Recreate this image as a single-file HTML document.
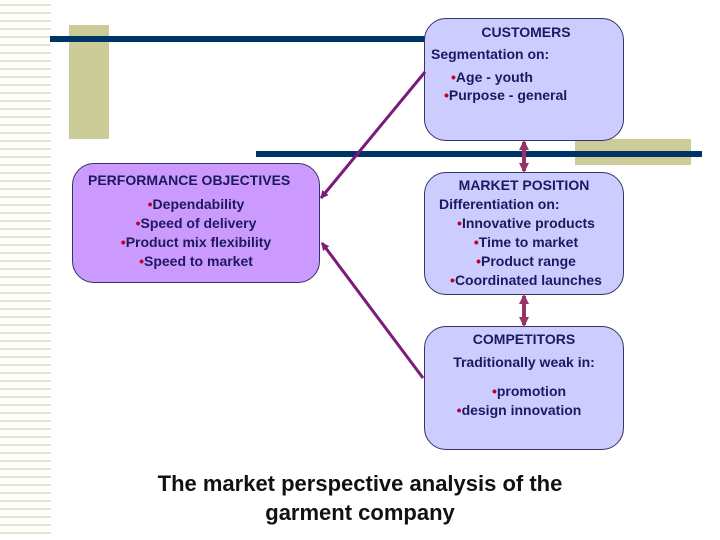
<!DOCTYPE html>
<html><head><style>
body{margin:0;width:720px;height:540px;background:#fff;position:relative;overflow:hidden;font-family:"Liberation Sans",sans-serif;}
.stripes{position:absolute;left:0;top:0;width:51px;height:540px;background:repeating-linear-gradient(#fff 0 4px,#e6e6cc 4px 6px,#fff 6px 8px);}
.abs{position:absolute}
.box{position:absolute;border:1px solid #333366;border-radius:22px;background:#ccccff;color:#1a1a5e;font-weight:bold;font-size:14px;text-align:center;box-sizing:border-box;line-height:19px}
.b{color:#c00020}
</style></head><body>
<div class="stripes"></div>
<div class="abs" style="left:69px;top:25px;width:40px;height:114px;background:#cccc99"></div>
<div class="abs" style="left:575px;top:139px;width:116px;height:26px;background:#cccc99"></div>
<div class="abs" style="left:50px;top:36px;width:375px;height:6px;background:#003366"></div>
<div class="abs" style="left:256px;top:151px;width:446px;height:6px;background:#003366"></div>

<div class="box" style="left:72px;top:163px;width:248px;height:120px;background:#cc99ff;">
<div style="margin-top:7px;text-align:left;padding-left:15px;font-size:14px">PERFORMANCE OBJECTIVES</div>
<div style="margin-top:5px"><span class="b">•</span>Dependability<br><span class="b">•</span>Speed of delivery<br><span class="b">•</span>Product mix flexibility<br><span class="b">•</span>Speed to market</div>
</div>

<div class="box" style="left:424px;top:18px;width:200px;height:123px;">
<div style="margin-top:4px;padding-left:4px">CUSTOMERS</div>
<div style="margin-top:3px;text-align:left;padding-left:6px">Segmentation on:</div>
<div style="margin-top:4px;text-align:left;padding-left:26px;line-height:18px"><span class="b">•</span>Age - youth<br><span style="margin-left:-7px"><span class="b">•</span>Purpose - general</span></div>
</div>

<div class="box" style="left:424px;top:172px;width:200px;height:123px;">
<div style="margin-top:3px">MARKET POSITION</div>
<div style="text-align:left;padding-left:14px">Differentiation on:</div>
<div style="margin-left:4px"><span class="b">•</span>Innovative products<br><span class="b">•</span>Time to market<br><span class="b">•</span>Product range<br><span class="b">•</span>Coordinated launches</div>
</div>

<div class="box" style="left:424px;top:326px;width:200px;height:124px;">
<div style="margin-top:3px">COMPETITORS</div>
<div style="margin-top:4px">Traditionally weak in:</div>
<div style="margin-top:10px;margin-left:10px"><span class="b">•</span>promotion<br><span style="margin-left:-20px"><span class="b">•</span>design innovation</span></div>
</div>

<svg class="abs" style="left:0;top:0" width="720" height="540">
<defs>
<marker id="a" markerWidth="8" markerHeight="8" refX="7" refY="4" orient="auto" markerUnits="userSpaceOnUse"><path d="M0,0 L8,4 L0,8 z" fill="#7a1a7a"/></marker>
<marker id="c" markerWidth="10" markerHeight="10" refX="8" refY="5" orient="auto-start-reverse" markerUnits="userSpaceOnUse"><path d="M0,0 L10,5 L0,10 z" fill="#993366"/></marker>
</defs>
<line x1="425" y1="72" x2="321" y2="198" stroke="#7a1a7a" stroke-width="3" marker-end="url(#a)"/>
<line x1="423" y1="378" x2="322" y2="243" stroke="#7a1a7a" stroke-width="3" marker-end="url(#a)"/>
<line x1="524" y1="142" x2="524" y2="171" stroke="#993366" stroke-width="4" marker-start="url(#c)" marker-end="url(#c)"/>
<line x1="524" y1="296" x2="524" y2="325" stroke="#993366" stroke-width="4" marker-start="url(#c)" marker-end="url(#c)"/>
</svg>

<div class="abs" style="left:100px;top:469px;width:520px;text-align:center;font-size:22px;font-weight:bold;color:#111;line-height:29px">The market perspective analysis of the<br>garment company</div>
</body></html>
